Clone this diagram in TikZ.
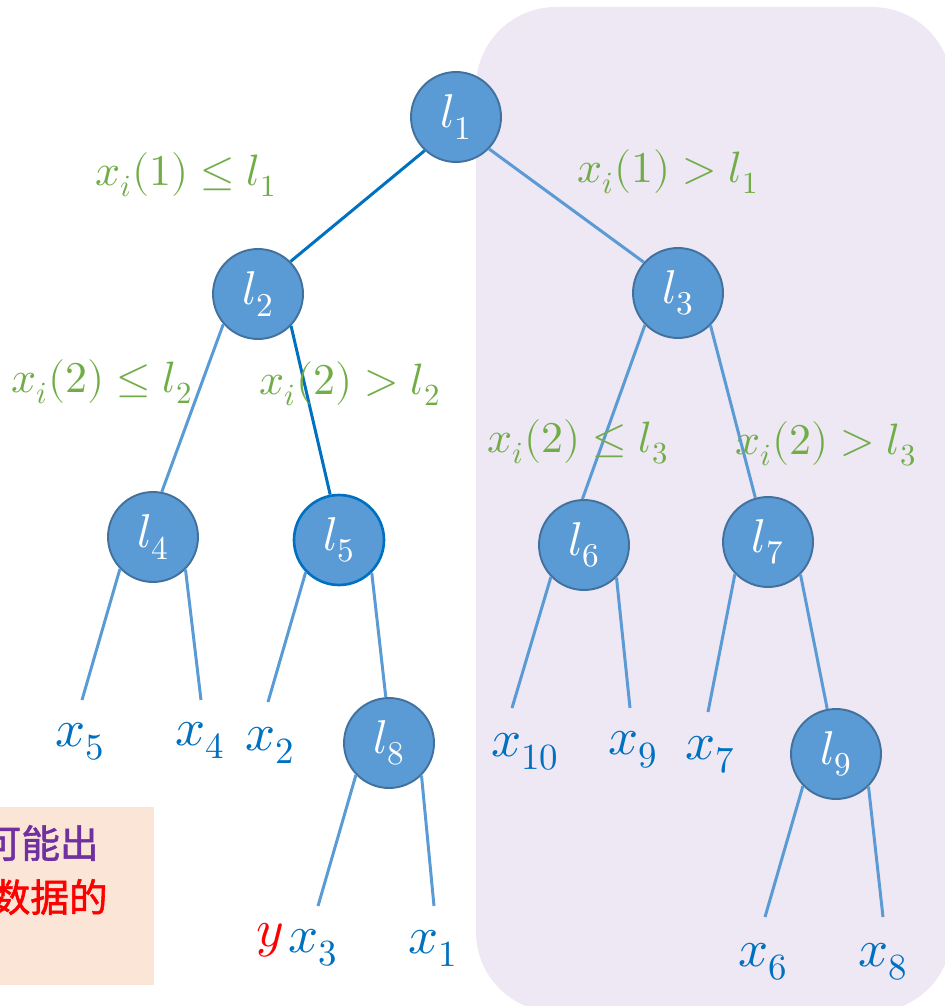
\documentclass[tikz,border=0pt]{standalone}
\usepackage{fontspec}
\usepackage{unicode-math}
\newfontfamily\cjk[FakeBold=1.5]{Noto Sans CJK SC}
\definecolor{nodeblue}{RGB}{91,155,213}
\definecolor{nodeedge}{RGB}{65,113,156}
\definecolor{pathblue}{RGB}{0,112,192}
\definecolor{condgreen}{RGB}{112,173,71}
\definecolor{regionbg}{RGB}{238,231,244}
\definecolor{notebg}{RGB}{251,229,214}
\definecolor{notepurple}{RGB}{112,48,160}
\usetikzlibrary{positioning}

\begin{document}
\begin{tikzpicture}[x=0.02cm,y=-0.02cm,
  split/.style={circle,draw=nodeedge,line width=1.1pt,fill=nodeblue,minimum size=1.8cm,inner sep=0pt,text=white,font=\fontsize{27}{30}\selectfont},
  leaf/.style={text=pathblue,font=\fontsize{30}{34}\selectfont,inner sep=0pt},
  cond/.style={text=condgreen,font=\fontsize{25}{28}\selectfont,inner sep=0pt},
  branch/.style={line width=1.7pt,nodeblue},
  hot/.style={line width=1.7pt,pathblue}
]
  \useasboundingbox (0,0) rectangle (945,1006);
  \clip (0,0) rectangle (945,1006);

  % Right subtree region
  \fill[regionbg,rounded corners=1.6cm] (476,7) rectangle (952,1012);

  % Note box (cut at the left edge)
  \fill[notebg] (-10,807) rectangle (154,985);
  \node[anchor=east,inner sep=0pt,text=notepurple,font=\cjk\fontsize{22}{26}\selectfont] (note1) at (99,843) {可能出};
  \node[anchor=east,inner sep=0pt,text=red,font=\cjk\fontsize{22}{26}\selectfont] (note2) at (108,897) {数据的};

  % Split nodes
  \node[split] (l1) at (456,117) {$l_1$};
  \node[split] (l2) at (258,294) {$l_2$};
  \node[split] (l3) at (678,293) {$l_3$};
  \node[split] (l4) at (153,537) {$l_4$};
  \node[split,draw=pathblue,line width=1.5pt] (l5) at (339,540) {$l_5$};
  \node[split] (l6) at (584,545) {$l_6$};
  \node[split] (l7) at (768,542) {$l_7$};
  \node[split] (l8) at (389,743) {$l_8$};
  \node[split] (l9) at (836,754) {$l_9$};

  % Leaves
  \node[leaf] (x5) at (80,742) {$x_5$};
  \node[leaf] (x4) at (200,740) {$x_4$};
  \node[leaf] (x2) at (270,745) {$x_2$};
  \node[leaf] (x10) at (525,752) {$x_{10}$};
  \node[leaf] (x9) at (633,750) {$x_9$};
  \node[leaf] (x7) at (710,755) {$x_7$};
  \node[leaf] (x3) at (313,948) {$x_3$};
  \node[leaf] (x1) at (433,948) {$x_1$};
  \node[leaf] (x6) at (763,962) {$x_6$};
  \node[leaf] (x8) at (883,962) {$x_8$};
  \node[leaf,text=red] (y) at (270,940) {$y$};

  % Free ends of the leaf branches
  \coordinate (e5) at (82,700);
  \coordinate (e4) at (201,700);
  \coordinate (e2) at (268,702);
  \coordinate (e10) at (512,708);
  \coordinate (e9) at (630,708);
  \coordinate (e7) at (708,712);
  \coordinate (e3) at (318,906);
  \coordinate (e1) at (434,906);
  \coordinate (e6) at (765,917);
  \coordinate (e8) at (883,917);

  % Branches
  \draw[hot] (l1.227) -- (l2.45);
  \draw[branch] (l1.316) -- (l3.138);
  \draw[branch] (l2.221) -- (l4.79);
  \draw[hot] (l2.316) -- (l5.101);
  \draw[branch] (l3.224) -- (l6.92);
  \draw[branch] (l3.315) -- (l7.106);
  \draw[branch] (l4.224) -- (e5);
  \draw[branch] (l4.315) -- (e4);
  \draw[branch] (l5.224) -- (e2);
  \draw[branch] (l5.315) -- (l8.94);
  \draw[branch] (l6.224) -- (e10);
  \draw[branch] (l6.315) -- (e9);
  \draw[branch] (l7.224) -- (e7);
  \draw[branch] (l7.315) -- (l9.101);
  \draw[branch] (l8.224) -- (e3);
  \draw[branch] (l8.315) -- (e1);
  \draw[branch] (l9.224) -- (e6);
  \draw[branch] (l9.315) -- (e8);

  % Split conditions
  \node[cond] (c1) at (186,175) {$x_i(1)\leq l_1$};
  \node[cond] (c2) at (668,172) {$x_i(1)>l_1$};
  \node[cond] (c3) at (102,382) {$x_i(2)\leq l_2$};
  \node[cond] (c4) at (350,384) {$x_i(2)>l_2$};
  \node[cond] (c5) at (578,442) {$x_i(2)\leq l_3$};
  \node[cond] (c6) at (826,444) {$x_i(2)>l_3$};
\end{tikzpicture}
\end{document}
